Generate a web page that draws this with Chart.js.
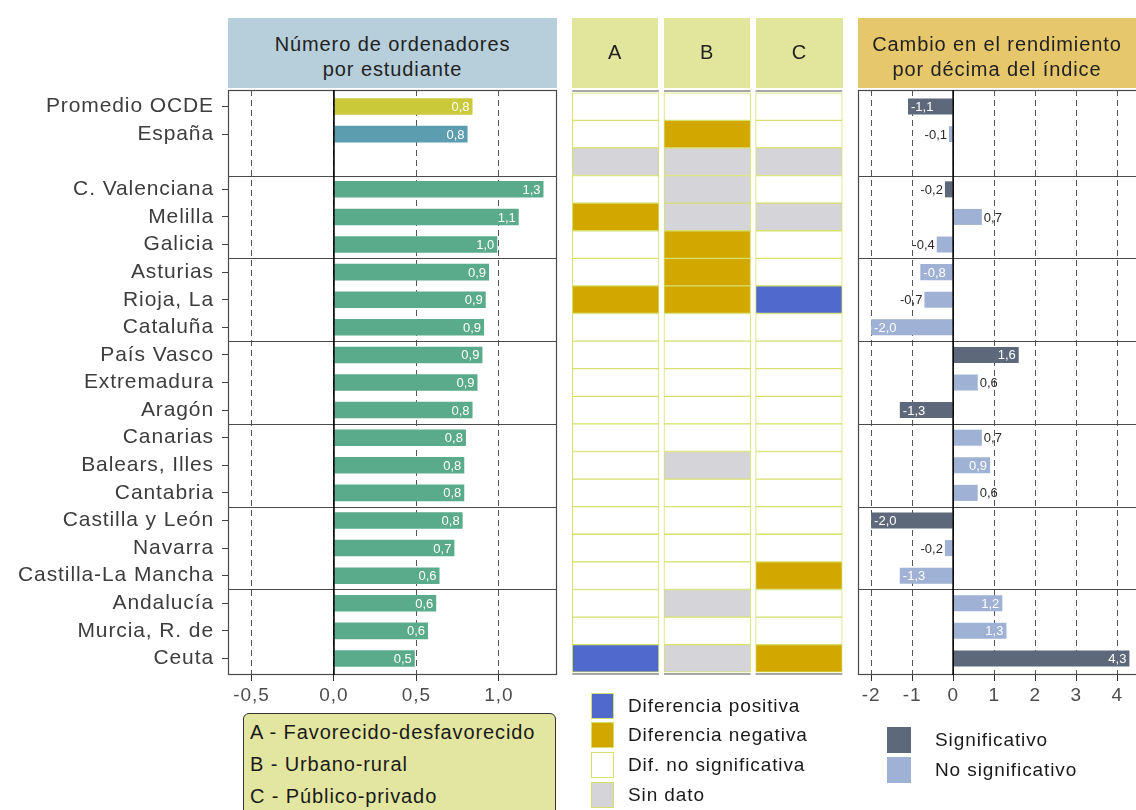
<!DOCTYPE html>
<html lang="es">
<head>
<meta charset="utf-8">
<script src="https://cdn.jsdelivr.net/npm/chart.js@4.4.1/dist/chart.umd.min.js"></script>
<style>
body{margin:0;width:1136px;height:810px;overflow:hidden;background:#fff;position:relative;font-family:"Liberation Sans",Arial,sans-serif;color:#222;letter-spacing:0.9px}
canvas{position:absolute;top:0}
.cab{position:absolute;top:18px;height:70px;text-align:center;font-size:20px;line-height:25px;box-sizing:border-box;padding-top:14px;z-index:2}
.caja{position:absolute;left:243px;top:713px;width:313px;height:110px;background:#e3e6a0;border:1px solid #333;border-radius:6px;box-sizing:border-box;padding:2px 0 0 6px;font-size:20px;line-height:32px;color:#1a1a1a}
.sq{position:absolute;width:23px;height:26px;box-sizing:border-box;border:1px solid #d5e16b}
.txt{position:absolute;font-size:19px;line-height:26px;color:#1a1a1a;white-space:nowrap}
</style>
</head>
<body>

<canvas id="c1" width="562" height="712" style="left:0"></canvas>
<canvas id="c2" width="290" height="712" style="left:560px"></canvas>
<canvas id="c3" width="300" height="712" style="left:840px"></canvas>

<div class="cab" style="left:228px;width:329px;background:#b6cfda">Número de ordenadores<br>por estudiante</div>
<div class="cab" style="left:572px;width:86px;background:#e2e59c;padding-top:22px">A</div>
<div class="cab" style="left:664px;width:86px;background:#e2e59c;padding-top:22px">B</div>
<div class="cab" style="left:756px;width:87px;background:#e2e59c;padding-top:22px">C</div>
<div class="cab" style="left:858px;width:278px;background:#e6c76b">Cambio en el rendimiento<br>por décima del índice</div>

<div class="caja">A - Favorecido-desfavorecido<br>B - Urbano-rural<br>C - Público-privado</div>

<div class="sq" style="left:591px;top:693px;background:#4f69cd"></div>
<div class="sq" style="left:591px;top:722px;background:#d2a700"></div>
<div class="sq" style="left:591px;top:752px;background:#ffffff"></div>
<div class="sq" style="left:591px;top:782px;background:#d5d5d9"></div>
<div class="txt" style="left:628px;top:693px">Diferencia positiva</div>
<div class="txt" style="left:628px;top:722px">Diferencia negativa</div>
<div class="txt" style="left:628px;top:752px">Dif. no significativa</div>
<div class="txt" style="left:628px;top:782px">Sin dato</div>

<div class="sq" style="left:887px;top:727px;width:24px;border:none;background:#5d697b"></div>
<div class="sq" style="left:887px;top:757px;width:24px;border:none;background:#9fb1d4"></div>
<div class="txt" style="left:935px;top:727px">Significativo</div>
<div class="txt" style="left:935px;top:757px">No significativo</div>

<script>
// datos

const categorias = ["Promedio OCDE","España","","C. Valenciana","Melilla","Galicia","Asturias","Rioja, La","Cataluña","País Vasco","Extremadura","Aragón","Canarias","Balears, Illes","Cantabria","Castilla y León","Navarra","Castilla-La Mancha","Andalucía","Murcia, R. de","Ceuta"]

const ordenadores = [0.84,0.81,null,1.27,1.12,0.99,0.94,0.92,0.91,0.90,0.87,0.84,0.80,0.79,0.79,0.78,0.73,0.64,0.62,0.57,0.49]

// pos = diferencia positiva, neg = negativa, ns = no significativa, sd = sin dato
const difA = ["ns","ns","sd","ns","neg","ns","ns","neg","ns","ns","ns","ns","ns","ns","ns","ns","ns","ns","ns","ns","pos"]
const difB = ["ns","neg","sd","sd","sd","neg","neg","neg","ns","ns","ns","ns","ns","sd","ns","ns","ns","ns","sd","ns","sd"]
const difC = ["ns","ns","sd","ns","sd","ns","ns","pos","ns","ns","ns","ns","ns","ns","ns","ns","ns","neg","ns","ns","neg"]

const cambio = [-1.1,-0.1,null,-0.2,0.7,-0.4,-0.8,-0.7,-2.0,1.6,0.6,-1.3,0.7,0.9,0.6,-2.0,-0.2,-1.3,1.2,1.3,4.3]
const significativo = [1,0,null,1,0,0,0,0,0,1,0,1,0,0,0,1,0,0,0,0,1]

const separadores = [2.5,5.5,8.5,11.5,14.5,17.5]
const ticksOrdenadores = [-0.5,0,0.5,1.0]
const ticksCambio = [-2,-1,0,1,2,3,4]


const colorDif = {pos:"#4f69cd", neg:"#d2a700", ns:"#ffffff", sd:"#d5d5d9"}
const fuente = '"Liberation Sans", Arial, sans-serif'
const coma = v => v.toFixed(1).replace(".", ",")

function indices(vals){
return vals.map((v,i)=>i).filter(i=>vals[i]!==null)
}

// eje de filas comun a los tres paneles
function ejeFilas(extra){
return Object.assign({
type:"linear",
reverse:true,
offset:false,
min:-0.6,
max:20.6,
afterBuildTicks: s=>{ s.ticks = indices(categorias.map(c=>c||null)).map(i=>({value:i})) }
}, extra)
}


// marco, separadores y linea del cero

const marco = {
id:"marco",
beforeDraw(chart){ chart.ctx.letterSpacing = "0.9px" },
afterDatasetsDraw(chart, args, opts){
const ctx = chart.ctx
const a = chart.chartArea
const y = chart.scales.y
ctx.save()
ctx.letterSpacing = "0px"
if(opts.columnas){
const x = chart.scales.x
ctx.strokeStyle = "#8a8a8a"
ctx.lineWidth = 1.5
for(let c=0;c<3;c++){
const x0 = x.getPixelForValue(c+0.025), x1 = x.getPixelForValue(c+0.97)
ctx.beginPath()
ctx.moveTo(x0, a.top+1); ctx.lineTo(x1, a.top+1)
ctx.moveTo(x0, a.bottom-1); ctx.lineTo(x1, a.bottom-1)
ctx.stroke()
}
ctx.restore()
return
}
ctx.strokeStyle = "#4a4a4a"
ctx.lineWidth = 1.2
ctx.strokeRect(a.left+0.5, a.top+0.5, a.width-1, a.height-1)
separadores.forEach(s=>{
const py = Math.round(y.getPixelForValue(s))+0.5
ctx.beginPath(); ctx.moveTo(a.left, py); ctx.lineTo(a.right, py); ctx.stroke()
})
const px = chart.scales.x.getPixelForValue(0)
ctx.strokeStyle = "#000"
ctx.lineWidth = 1.6
ctx.beginPath(); ctx.moveTo(px, a.top); ctx.lineTo(px, a.bottom); ctx.stroke()
ctx.restore()
}
}


// etiquetas de valor

const etiquetas = {
id:"etiquetas",
afterDatasetsDraw(chart, args, opts){
if(!opts.modo) return
const ctx = chart.ctx
const meta = chart.getDatasetMeta(0)
const datos = chart.data.datasets[0].data
ctx.save()
ctx.letterSpacing = "0px"
ctx.font = "13px " + fuente
ctx.textBaseline = "middle"
meta.data.forEach((bar,k)=>{
const v = datos[k].x
const txt = coma(v)
let dentro = opts.modo==="dentro" || Math.abs(v) >= 0.75
if(dentro){
ctx.fillStyle = "#ffffff"
ctx.textAlign = v>=0 ? "right" : "left"
ctx.fillText(txt, v>=0 ? bar.x-3 : bar.x+3, bar.y+1)
}else{
ctx.fillStyle = "#2a2a2a"
ctx.textAlign = v>=0 ? "left" : "right"
ctx.fillText(txt, v>=0 ? bar.x+2 : bar.x-2, bar.y+1)
}
})
ctx.restore()
}
}


function ejeX(min, max, ticks, fmt){
return {
type:"linear",
min:min,
max:max,
afterBuildTicks: s=>{ s.ticks = ticks.map(v=>({value:v})) },
afterFit: s=>{ s.height = 37 },
grid:{color:"#555", lineWidth:1, tickLength:6, tickColor:"#333"},
border:{display:false, dash:[6,4]},
ticks:{callback:fmt, font:{family:fuente, size:19}, color:"#4d4d4d", padding:3, maxRotation:0, autoSkip:false}
}
}

const sinExtras = {legend:{display:false}, tooltip:{enabled:false}}


// panel 1: ordenadores por estudiante

const i1 = indices(ordenadores)

new Chart(document.getElementById("c1"),{
type:"bar",
data:{
datasets:[{
data:i1.map(i=>({x:ordenadores[i], y:i})),
backgroundColor:i1.map(i=> i===0 ? "#c9c93a" : i===1 ? "#5c9db0" : "#5aab8b"),
barPercentage:0.6,
categoryPercentage:1
}]
},
options:{
indexAxis:"y",
responsive:false,
animation:false,
layout:{padding:{top:90, right:5}},
scales:{
x:ejeX(-0.642, 1.352, ticksOrdenadores, v=>coma(v)),
y:ejeFilas({
afterFit: s=>{ s.width = 228 },
grid:{offset:false, drawOnChartArea:false, tickLength:6, tickColor:"#444"},
border:{display:false},
ticks:{callback:v=>categorias[v], autoSkip:false, font:{family:fuente, size:21}, color:"#3d3d3d", padding:8}
})
},
plugins:Object.assign({marco:{}, etiquetas:{modo:"dentro"}}, sinExtras)
},
plugins:[marco, etiquetas]
})


// panel 2: diferencias A, B, C

new Chart(document.getElementById("c2"),{
type:"bar",
data:{
datasets:[difA, difB, difC].map((est,col)=>({
data:est.map((e,i)=>({x:[col+0.025, col+0.97], y:i})),
backgroundColor:est.map(e=>colorDif[e]),
borderColor:"#d5e16b",
borderWidth:1,
borderSkipped:false,
grouped:false,
barPercentage:1,
categoryPercentage:1
}))
},
options:{
indexAxis:"y",
responsive:false,
animation:false,
layout:{padding:{top:90, left:10, right:5, bottom:37}},
scales:{
x:{type:"linear", display:false, min:0, max:3},
y:ejeFilas({display:false})
},
plugins:Object.assign({marco:{columnas:true}, etiquetas:{}}, sinExtras)
},
plugins:[marco]
})


// panel 3: cambio en el rendimiento

const i3 = indices(cambio)

new Chart(document.getElementById("c3"),{
type:"bar",
data:{
datasets:[{
data:i3.map(i=>({x:cambio[i], y:i})),
backgroundColor:i3.map(i=> significativo[i] ? "#5d697b" : "#9fb1d4"),
barPercentage:0.58,
categoryPercentage:1
}]
},
options:{
indexAxis:"y",
responsive:false,
animation:false,
layout:{padding:{top:90, left:18}},
scales:{
x:ejeX(-2.32, 4.558, ticksCambio, v=>String(v)),
y:ejeFilas({display:false})
},
plugins:Object.assign({marco:{}, etiquetas:{modo:"auto"}}, sinExtras)
},
plugins:[marco, etiquetas]
})
</script>
</body>
</html>
